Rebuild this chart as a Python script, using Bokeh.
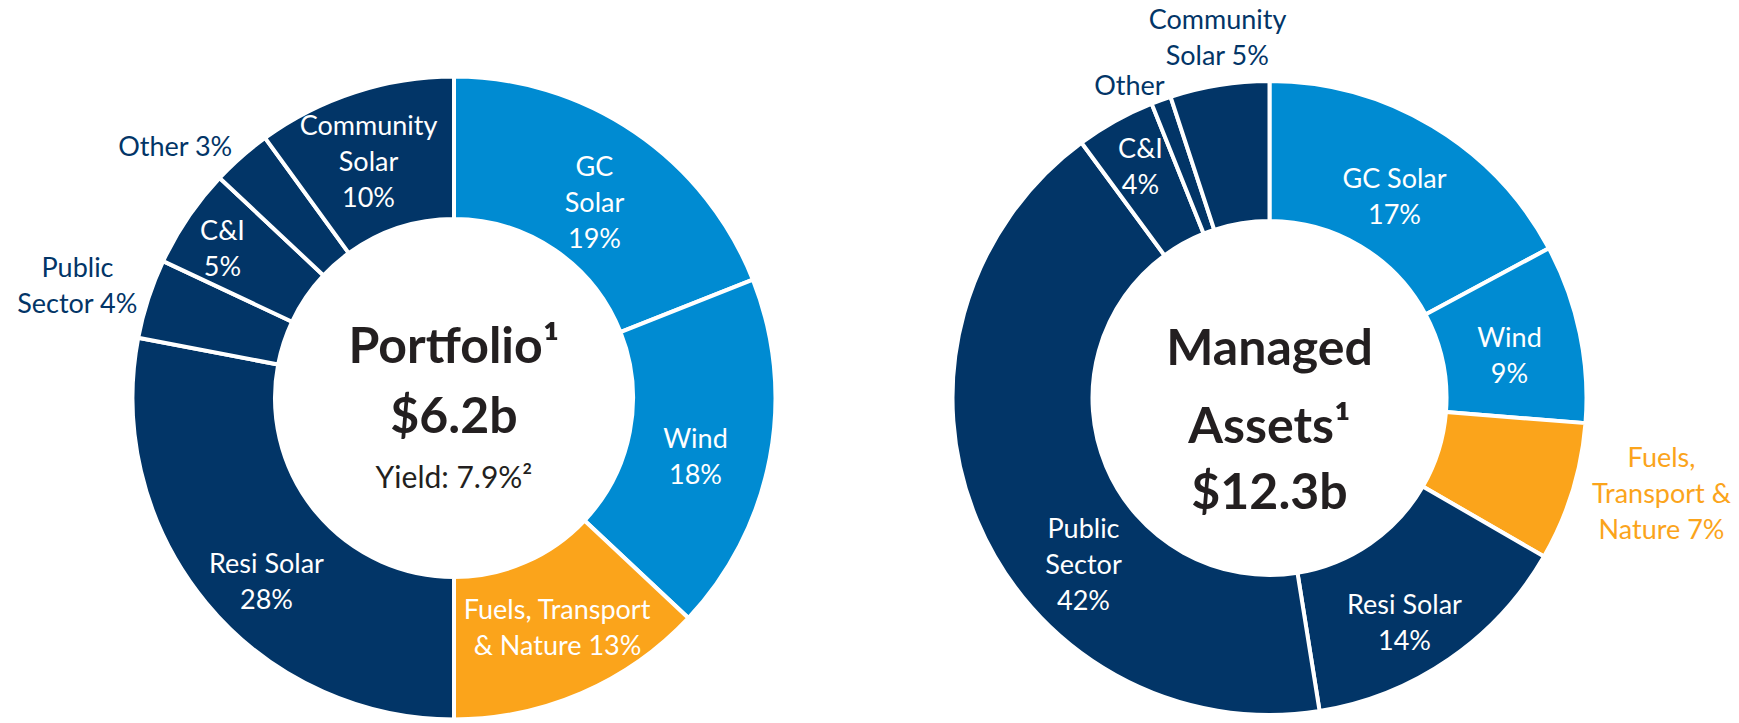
import math
from bokeh.plotting import figure
from bokeh.models import Range1d
from bokeh.embed import file_html
from bokeh.resources import INLINE
from bokeh.core.properties import value

# ---------------- data ----------------
categories = ["GC Solar", "Wind", "Fuels, Transport & Nature", "Resi Solar",
              "Public Sector", "C&I", "Other", "Community Solar"]
portfolio_values = [19, 18, 13, 28, 4, 5, 3, 10]
managed_values = [17, 9, 7, 14, 42, 4, 1, 5]

portfolio_labels = [["GC", "Solar", "19%"], ["Wind", "18%"], ["Fuels, Transport", "& Nature 13%"],
                    ["Resi Solar", "28%"], ["Public", "Sector 4%"], ["C&I", "5%"],
                    ["Other 3%"], ["Community", "Solar", "10%"]]
managed_labels = [["GC Solar", "17%"], ["Wind", "9%"], ["Fuels,", "Transport &", "Nature 7%"],
                  ["Resi Solar", "14%"], ["Public", "Sector", "42%"], ["C&I", "4%"],
                  ["Other"], ["Community", "Solar 5%"]]

portfolio_center_text = ["Portfolio\u00b9", "$6.2b", "Yield: 7.9%\u00b2"]
managed_center_text = ["Managed", "Assets\u00b9", "$12.3b"]

# ---------------- styles / layout ----------------
NAVY = "#023567"
BLUE = "#008BD2"
ORANGE = "#FBA41B"
DARK = "#231F20"
seg_colors = [BLUE, BLUE, ORANGE, NAVY, NAVY, NAVY, NAVY, NAVY]
FONT = "Lato"
BOLD_FONT = "Lato"

W, H = 1739, 719
PAGE_X0, PAGE_Y0 = 0, 4   # observed placement of the canvas on the page


def Y(py):
    return 723 - py


# donut geometry (page px)
left_geom = dict(cx=453.5, cy=401.5, r_in=179, r_out=321.5)
right_geom = dict(cx=1269, cy=401.5, r_in=177, r_out=317)

# label anchors (page px, first line center), colour
left_label_pos = [(594, 168.5, "white"), (695, 441, "white"), (557, 612, "white"),
                  (266, 566, "white"), (77, 269.5, NAVY), (222, 233, "white"),
                  (175, 149, NAVY), (368, 127.5, "white")]
right_label_pos = [(1394, 181, "white"), (1509, 340, "white"), (1661, 460, ORANGE),
                   (1404, 607, "white"), (1083, 531, "white"), (1140, 151, "white"),
                   (1129, 88, NAVY), (1217, 22, NAVY)]
LINE = 36

p = figure(width=W, height=H, output_backend="svg", toolbar_location=None,
           x_range=Range1d(PAGE_X0, PAGE_X0 + W),
           y_range=Range1d(Y(PAGE_Y0 + H), Y(PAGE_Y0)),
           min_border=0, x_axis_location=None, y_axis_location=None)
p.grid.visible = False
p.outline_line_color = None
p.background_fill_color = "white"
p.border_fill_color = "white"


def donut(vals, geom):
    total = float(sum(vals))
    starts, ends = [], []
    c = 0.0
    for v in vals:
        starts.append(math.pi / 2 - 2 * math.pi * c / total)
        c += v
        ends.append(math.pi / 2 - 2 * math.pi * c / total)
    p.annular_wedge(x=[geom["cx"]] * len(vals), y=[Y(geom["cy"])] * len(vals),
                    inner_radius=geom["r_in"], outer_radius=geom["r_out"],
                    start_angle=starts, end_angle=ends, direction="clock",
                    fill_color=seg_colors, line_color="white", line_width=4)


def labels(lines_list, pos_list):
    xs, ys, ts, cs = [], [], [], []
    for lines, (x, y, col) in zip(lines_list, pos_list):
        for i, t in enumerate(lines):
            xs.append(x)
            ys.append(Y(y + i * LINE))
            ts.append(t)
            cs.append(col)
    p.text(x=xs, y=ys, text=ts, text_color=cs, text_font=value(FONT),
           text_font_size="27px", text_align="center", text_baseline="middle")


donut(portfolio_values, left_geom)
donut(managed_values, right_geom)
labels(portfolio_labels, left_label_pos)
labels(managed_labels, right_label_pos)

# centre texts
p.text(x=[453.5, 453.5], y=[Y(347), Y(417)], text=portfolio_center_text[:2],
       text_color=DARK, text_font=value(BOLD_FONT), text_font_style="bold",
       text_font_size="50px", text_align="center", text_baseline="middle")
p.text(x=[453.5], y=[Y(479)], text=portfolio_center_text[2:],
       text_color=DARK, text_font=value(FONT),
       text_font_size="30px", text_align="center", text_baseline="middle")
p.text(x=[1269, 1269, 1269], y=[Y(349), Y(427), Y(493)], text=managed_center_text,
       text_color=DARK, text_font=value(BOLD_FONT), text_font_style="bold",
       text_font_size="50px", text_align="center", text_baseline="middle")

open("out.html", "w").write(file_html(p, INLINE))
